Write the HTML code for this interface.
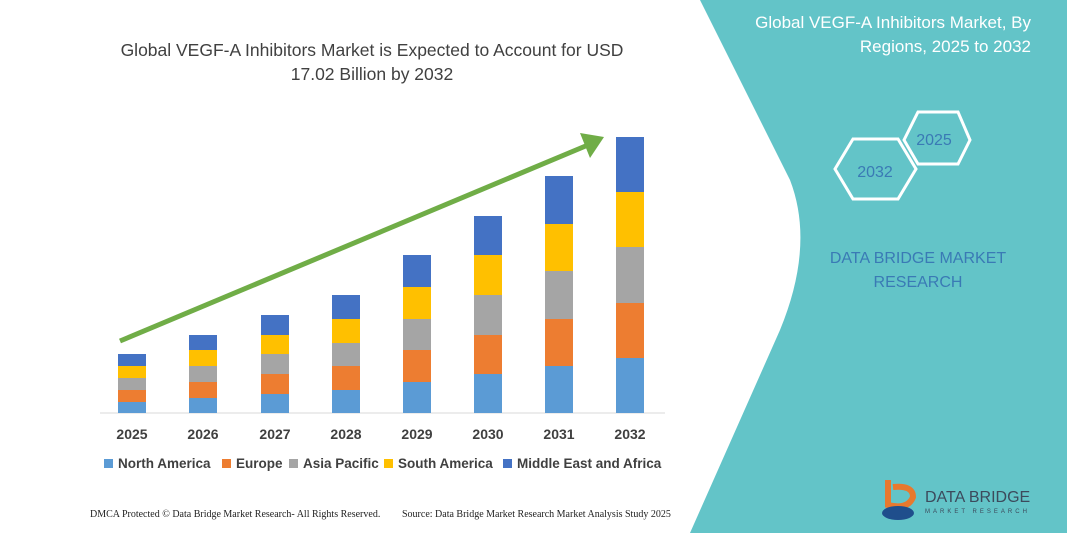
<!DOCTYPE html>
<html><head><style>
body{margin:0;width:1067px;height:533px;overflow:hidden;background:#fff;font-family:"Liberation Sans",sans-serif;position:relative}
</style></head><body>
<svg width="1067" height="533" style="position:absolute;left:0;top:0" font-family="Liberation Sans, sans-serif">
<path d="M700,0 L1067,0 L1067,533 L690,533 L780,330 Q815,245 790,180 Z" fill="#63c4c8"/>
<text x="372" y="56" font-size="17.5" fill="#404040" text-anchor="middle">Global VEGF-A Inhibitors Market is Expected to Account for USD</text>
<text x="372" y="80" font-size="17.5" fill="#404040" text-anchor="middle">17.02 Billion by 2032</text>
<text x="1031" y="28" font-size="17" fill="#fff" text-anchor="end">Global VEGF-A Inhibitors Market, By</text>
<text x="1031" y="52" font-size="17" fill="#fff" text-anchor="end">Regions, 2025 to 2032</text>
<polygon points="835,169 853,139 898,139 916,169 898,199 853,199" fill="none" stroke="#fff" stroke-width="3"/>
<polygon points="904,140 918,112 958,112 970,140 958,164 918,164" fill="none" stroke="#fff" stroke-width="3"/>
<text x="875" y="177" font-size="16" fill="#3a7ab5" text-anchor="middle">2032</text>
<text x="934" y="145" font-size="16" fill="#3a7ab5" text-anchor="middle">2025</text>
<text x="918" y="263" font-size="16" fill="#3a7ab5" text-anchor="middle">DATA BRIDGE MARKET</text>
<text x="918" y="287" font-size="16" fill="#3a7ab5" text-anchor="middle">RESEARCH</text>
<path d="M888,480 v25 q20,5 25,-8 q0,-12 -20,-10" fill="none" stroke="#e8792e" stroke-width="6"/>
<ellipse cx="898" cy="513" rx="16" ry="7" fill="#1f4e8c"/>
<text x="925" y="502" font-size="16" fill="#3c4a5c">DATA BRIDGE</text>
<text x="925" y="513" font-size="6" fill="#3c4a5c" letter-spacing="3">MARKET RESEARCH</text>
<line x1="100" y1="413" x2="665" y2="413" stroke="#d9d9d9" stroke-width="1"/>
<g id="bars"></g>
<line x1="120" y1="341" x2="588" y2="145" stroke="#70ad47" stroke-width="5"/>
<polygon points="604,137 580,133 590,158" fill="#70ad47"/>
<g font-size="14" font-weight="bold" fill="#404040" text-anchor="middle">
<text x="132" y="439">2025</text><text x="203" y="439">2026</text><text x="275" y="439">2027</text><text x="346" y="439">2028</text><text x="417" y="439">2029</text><text x="488" y="439">2030</text><text x="559" y="439">2031</text><text x="630" y="439">2032</text>
</g>
<g font-size="13.5" font-weight="bold" fill="#404040">
<rect x="104" y="459" width="9" height="9" fill="#5b9bd5"/><text x="118" y="468">North America</text>
<rect x="222" y="459" width="9" height="9" fill="#ed7d31"/><text x="236" y="468">Europe</text>
<rect x="289" y="459" width="9" height="9" fill="#a5a5a5"/><text x="303" y="468">Asia Pacific</text>
<rect x="384" y="459" width="9" height="9" fill="#ffc000"/><text x="398" y="468">South America</text>
<rect x="503" y="459" width="9" height="9" fill="#4472c4"/><text x="517" y="468">Middle East and Africa</text>
</g>
<g font-family="Liberation Serif, serif" font-size="10" fill="#222">
<text x="90" y="517">DMCA Protected © Data Bridge Market Research- All Rights Reserved.</text>
<text x="402" y="517">Source: Data Bridge Market Research Market Analysis Study 2025</text>
</g>
</svg>
<script>
var xs=[118,189,261,332,403,474,545,616];
var t=[[402,390,378,366,354],[398,382,366,350,335],[394,374,354,335,315],[390,366,343,319,295],[382,350,319,287,255],[374,335,295,255,216],[366,319,271,224,176],[358,303,247,192,137]];
var c=["#5b9bd5","#ed7d31","#a5a5a5","#ffc000","#4472c4"];
var s="";
for(var i=0;i<8;i++){var b=413;for(var j=0;j<5;j++){s+='<rect x="'+xs[i]+'" y="'+t[i][j]+'" width="28" height="'+(b-t[i][j])+'" fill="'+c[j]+'"/>';b=t[i][j];}}
document.getElementById("bars").innerHTML=s;
</script>
</body></html>
